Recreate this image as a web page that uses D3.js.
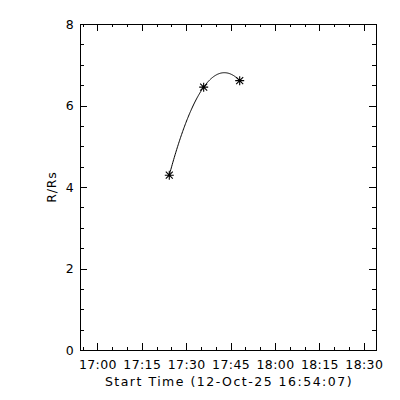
<!DOCTYPE html>
<html lang="en">
<head>
  <meta charset="utf-8">
  <title>R/Rs vs time</title>
  <script src="https://cdn.jsdelivr.net/npm/d3@7"></script>
  <style>
    body { margin: 0; background: #fff; }
    text { font-family: "DejaVu Sans", sans-serif; font-size: 12.5px; fill: #000; }
    .axis path, .axis line { stroke: #000; shape-rendering: crispEdges; }
  </style>
</head>
<body>
  <svg id="chart"></svg>
  <script>
    // data
    var day = "2025-10-12";
    var startTime = "16:54:07";
    var endTime = "18:34:07";
    var obsTimes = ["17:24:17", "17:35:54", "17:48:04"];
    var obsHeights = [4.29, 6.45, 6.61];
    var yTicks = [0, 2, 4, 6, 8];

    var w = 400, h = 400;
    var pLeft = 80, pRight = 376, pTop = 24, pBottom = 350;

    var parse = d3.timeParse("%Y-%m-%d %H:%M:%S");
    var t0 = parse(day + " " + startTime);
    var t1 = parse(day + " " + endTime);

    var svg = d3.select("#chart")
      .attr("width", w)
      .attr("height", h);

    var x = d3.scaleTime().domain([t0, t1]).range([pLeft, pRight]);
    var y = d3.scaleLinear().domain([0, 8]).range([pBottom, pTop]);

    var major = d3.timeMinute.every(15);
    var minor = d3.timeMinute.every(5);
    var fmt = d3.timeFormat("%H:%M");

    // minor ticks first
    svg.append("g").attr("class", "axis")
      .attr("transform", "translate(0," + pBottom + ")")
      .call(d3.axisBottom(x).ticks(minor).tickSize(-3).tickFormat(""))
      .select(".domain").remove();
    svg.append("g").attr("class", "axis")
      .attr("transform", "translate(0," + pTop + ")")
      .call(d3.axisTop(x).ticks(minor).tickSize(-3).tickFormat(""))
      .select(".domain").remove();
    svg.append("g").attr("class", "axis")
      .attr("transform", "translate(" + pLeft + ",0)")
      .call(d3.axisLeft(y).ticks(16).tickSize(-4).tickFormat(""))
      .select(".domain").remove();
    svg.append("g").attr("class", "axis")
      .attr("transform", "translate(" + pRight + ",0)")
      .call(d3.axisRight(y).ticks(16).tickSize(-4).tickFormat(""))
      .select(".domain").remove();

    // major ticks and the box
    svg.append("g").attr("class", "axis")
      .attr("transform", "translate(0," + pBottom + ")")
      .call(d3.axisBottom(x).ticks(major).tickSize(-7).tickSizeOuter(0).tickPadding(10).tickFormat(fmt));
    svg.append("g").attr("class", "axis")
      .attr("transform", "translate(0," + pTop + ")")
      .call(d3.axisTop(x).ticks(major).tickSize(-7).tickSizeOuter(0).tickFormat(""));
    svg.append("g").attr("class", "axis")
      .attr("transform", "translate(" + pLeft + ",0)")
      .call(d3.axisLeft(y).tickValues(yTicks).tickSize(-7).tickSizeOuter(0).tickPadding(6).tickFormat(d3.format("d")));
    svg.append("g").attr("class", "axis")
      .attr("transform", "translate(" + pRight + ",0)")
      .call(d3.axisRight(y).tickValues(yTicks).tickSize(-7).tickSizeOuter(0).tickFormat(""));

    svg.selectAll(".axis text")
      .attr("fill", "#000")
      .style("font-family", "'DejaVu Sans', sans-serif")
      .style("font-size", "12.5px")
      .style("letter-spacing", "0.4px");

    // axis titles
    svg.append("text")
      .attr("x", (pLeft + pRight) / 2 + 1)
      .attr("y", 386)
      .attr("text-anchor", "middle")
      .style("letter-spacing", "1.5px")
      .text("Start Time (12-Oct-25 " + startTime + ")");
    svg.append("text")
      .attr("transform", "translate(56," + (pTop + pBottom) / 2 + ") rotate(-90)")
      .attr("text-anchor", "middle")
      .style("letter-spacing", "0.8px")
      .text("R/Rs");

    // quadratic fit through the observations
    var pts = obsTimes.map(function(s, i) {
      return { t: parse(day + " " + s), r: obsHeights[i] };
    });
    var secs = pts.map(function(d) { return (d.t - t0) / 1000; });
    var s0 = secs[0], s1 = secs[1], s2 = secs[2];
    var r0 = pts[0].r, r1 = pts[1].r, r2 = pts[2].r;
    function fit(s) {
      return r0 * (s - s1) * (s - s2) / ((s0 - s1) * (s0 - s2)) +
             r1 * (s - s0) * (s - s2) / ((s1 - s0) * (s1 - s2)) +
             r2 * (s - s0) * (s - s1) / ((s2 - s0) * (s2 - s1));
    }
    var curve = d3.range(s0, s2 + 1, 10).map(function(s) {
      return { t: new Date(+t0 + s * 1000), r: fit(s) };
    });
    svg.append("path")
      .datum(curve)
      .attr("fill", "none")
      .attr("stroke", "#000")
      .attr("stroke-width", 1)
      .attr("d", d3.line()
        .x(function(d) { return x(d.t); })
        .y(function(d) { return y(d.r); }));

    // asterisk markers
    svg.selectAll(".star")
      .data(pts)
      .enter()
      .append("path")
      .attr("class", "star")
      .attr("transform", function(d) { return "translate(" + x(d.t) + "," + y(d.r) + ")"; })
      .attr("d", "M-4.5,0H4.5M0,-4.5V4.5M-3.5,-3.5L3.5,3.5M-3.5,3.5L3.5,-3.5")
      .attr("stroke", "#000")
      .attr("stroke-width", 1.1)
      .attr("fill", "none");
  </script>
</body>
</html>
